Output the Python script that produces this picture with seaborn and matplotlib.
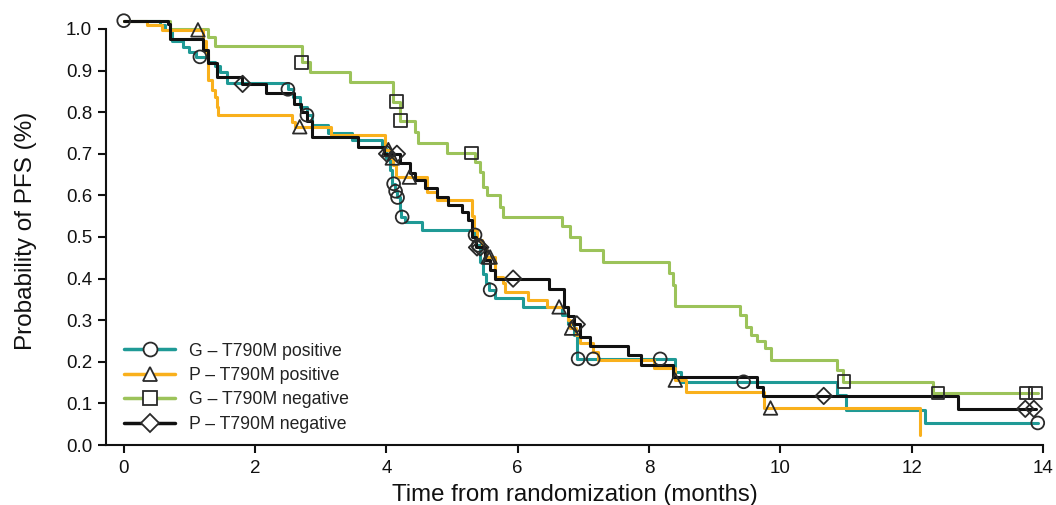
import matplotlib
matplotlib.use("Agg")
import matplotlib.pyplot as plt
from matplotlib.lines import Line2D
import numpy as np
import seaborn as sns

# ---- data (months, probability) ----
teal_t = [0, 0.55, 0.63, 0.73, 0.90, 1.00, 1.10, 1.28, 1.39, 1.46, 1.57, 2.50, 2.58, 2.68, 2.79, 2.87,
          3.11, 3.48, 3.94, 4.00, 4.06, 4.09, 4.13, 4.16, 4.20, 4.23, 4.28, 4.54, 5.33, 5.37, 5.42, 5.47,
          5.52, 5.56, 5.66, 6.08, 6.68, 6.76, 6.85, 6.90, 8.40, 8.48, 10.87, 11.00, 12.20, 13.92]
teal_p = [1.02, 1.01, 0.998, 0.97, 0.957, 0.945, 0.933, 0.92, 0.91, 0.897, 0.87, 0.855, 0.837, 0.813, 0.793, 0.77,
          0.75, 0.733, 0.714, 0.69, 0.66, 0.628, 0.61, 0.595, 0.565, 0.548, 0.536, 0.517, 0.505, 0.48, 0.44, 0.41,
          0.39, 0.373, 0.353, 0.332, 0.312, 0.29, 0.265, 0.207, 0.176, 0.152, 0.12, 0.084, 0.053, 0.053]
teal_cens = [0, 1.16, 2.50, 2.79, 4.11, 4.14, 4.17, 4.24, 5.35, 5.40, 5.58, 6.92, 7.15, 8.17, 9.44, 13.92]

orange_t = [0, 0.35, 0.58, 1.20, 1.26, 1.28, 1.34, 1.39, 1.42, 1.44, 2.56, 2.61, 3.15, 3.98, 4.06,
            4.10, 4.15, 4.62, 4.77, 5.31, 5.34, 5.38, 5.45, 5.52, 5.66, 5.77, 5.81, 6.15, 6.45, 6.76,
            6.80, 6.88, 6.95, 7.15, 7.23, 8.07, 8.40, 8.56, 9.75, 12.12]
orange_p = [1.02, 1.01, 0.998, 0.97, 0.94, 0.877, 0.853, 0.837, 0.813, 0.793, 0.777, 0.765, 0.745, 0.71, 0.69,
            0.672, 0.644, 0.608, 0.589, 0.55, 0.517, 0.493, 0.475, 0.452, 0.404, 0.389, 0.368, 0.349, 0.332, 0.30,
            0.281, 0.265, 0.245, 0.224, 0.204, 0.185, 0.156, 0.127, 0.089, 0.024]
orange_cens = [1.13, 2.68, 4.03, 4.09, 4.35, 5.55, 5.58, 6.63, 6.82, 8.40, 9.85]

green_t = [0, 0.70, 1.28, 1.39, 2.71, 2.84, 3.45, 4.10, 4.20, 4.44, 4.48, 4.93, 5.35, 5.43, 5.47,
           5.53, 5.73, 5.78, 6.68, 6.80, 6.95, 7.30, 8.30, 8.36, 8.40, 9.39, 9.47, 9.55, 9.65, 9.77,
           9.85, 10.87, 10.95, 12.32, 13.92]
green_p = [1.02, 1.0, 0.98, 0.96, 0.92, 0.897, 0.873, 0.825, 0.78, 0.752, 0.726, 0.702, 0.68, 0.656, 0.62,
           0.60, 0.572, 0.548, 0.526, 0.50, 0.469, 0.44, 0.413, 0.385, 0.334, 0.312, 0.284, 0.265, 0.25, 0.233,
           0.204, 0.18, 0.152, 0.125, 0.125]
green_cens = [2.71, 4.15, 4.22, 5.29, 10.97, 12.40, 13.74, 13.89]

black_t = [0, 0.67, 0.70, 1.21, 1.28, 1.42, 1.80, 2.17, 2.60, 2.70, 2.79, 2.87, 3.57, 3.97, 4.20,
           4.36, 4.44, 4.59, 4.77, 4.94, 5.15, 5.24, 5.31, 5.36, 5.50, 5.58, 5.66, 6.47, 6.70, 6.77,
           6.86, 6.95, 7.10, 7.68, 7.87, 8.37, 9.65, 9.74, 12.70, 13.90]
black_p = [1.02, 1.012, 0.976, 0.95, 0.918, 0.885, 0.868, 0.847, 0.82, 0.80, 0.78, 0.74, 0.716, 0.70, 0.678,
           0.654, 0.637, 0.618, 0.596, 0.577, 0.56, 0.541, 0.50, 0.475, 0.445, 0.42, 0.40, 0.375, 0.332, 0.309,
           0.29, 0.26, 0.238, 0.216, 0.192, 0.163, 0.14, 0.118, 0.087, 0.087]
black_cens = [1.81, 4.01, 4.16, 5.38, 5.43, 5.93, 6.90, 10.66, 13.73, 13.86]

labels = ["G \u2013 T790M positive", "P \u2013 T790M positive",
          "G \u2013 T790M negative", "P \u2013 T790M negative"]
colors = ["#1f9a96", "#f9b01c", "#9cc35a", "#111111"]
markers = ["o", "^", "s", "D"]
msizes = [85, 95, 85, 70]
x_ticks = [0, 2, 4, 6, 8, 10, 12, 14]
y_ticks = [0.0, 0.1, 0.2, 0.3, 0.4, 0.5, 0.6, 0.7, 0.8, 0.9, 1.0]

sns.set_theme(style="ticks")
plt.rcParams["font.family"] = ["Liberation Sans", "DejaVu Sans"]

fig = plt.figure(figsize=(10.56, 5.05), dpi=100)
ax = fig.add_axes([0.1004, 0.1188, 0.8873, 0.8485])

series = [(teal_t, teal_p, teal_cens), (orange_t, orange_p, orange_cens),
          (green_t, green_p, green_cens), (black_t, black_p, black_cens)]
order = [2, 0, 1, 3]
for i in order:
    t, p, cens = series[i]
    sns.lineplot(x=t, y=p, drawstyle="steps-post", color=colors[i], lw=2.2,
                 estimator=None, sort=False, ax=ax, zorder=2 + order.index(i), clip_on=False)
for i in order:
    t, p, cens = series[i]
    t_arr = np.array(t)
    p_arr = np.array(p)
    cy = [p_arr[np.searchsorted(t_arr, c, side="right") - 1] for c in cens]
    sns.scatterplot(x=cens, y=cy, marker=markers[i], s=msizes[i], facecolor="none",
                    edgecolor="#2a2a2a", linewidth=1.3, ax=ax, zorder=10, clip_on=False)

ax.set_xlim(-0.27, 14.0)
ax.set_ylim(0, 1.03)
ax.set_xticks(x_ticks)
ax.set_yticks(y_ticks)
ax.set_yticklabels([f"{v:.1f}" for v in y_ticks])
ax.spines["left"].set_bounds(0, 1.0)
ax.spines["top"].set_visible(False)
ax.spines["right"].set_visible(False)
for s in ["left", "bottom"]:
    ax.spines[s].set_linewidth(1.5)
    ax.spines[s].set_color("#111111")
ax.tick_params(axis="both", which="major", length=6, width=1.5, color="#111111",
               labelsize=13.5, labelcolor="#111111")
ax.tick_params(axis="x", pad=5)
ax.tick_params(axis="y", pad=4)
ax.set_xlabel("Time from randomization (months)", fontsize=17.3, color="#111111", labelpad=5)
ax.set_ylabel("Probability of PFS (%)", fontsize=17.5, color="#111111", labelpad=21)

handles = [Line2D([0], [0], color=colors[i], lw=2.5, marker=markers[i], markersize=10 if i != 3 else 9,
                  markerfacecolor="white", markeredgecolor="#2a2a2a", markeredgewidth=1.3)
           for i in range(4)]
leg = ax.legend(handles, labels, loc="lower left", bbox_to_anchor=(0.012, 0.012), frameon=False,
                fontsize=12.7, handlelength=2.9, handletextpad=0.75, labelspacing=0.42,
                borderaxespad=0)
for txt in leg.get_texts():
    txt.set_color("#222222")

fig.savefig("out.png", dpi=100)
